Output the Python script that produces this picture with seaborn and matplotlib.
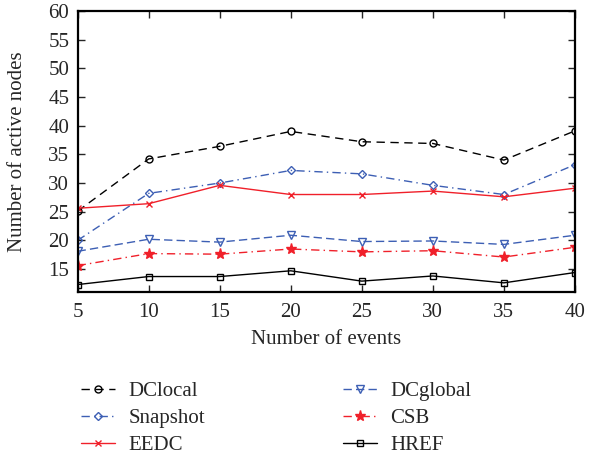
import matplotlib
matplotlib.use("Agg")
import matplotlib.pyplot as plt
import seaborn as sns
import pandas as pd

events = [5, 10, 15, 20, 25, 30, 35, 40]
dclocal = [25.1, 34.2, 36.4, 39.0, 37.2, 36.9, 34.0, 39.1]
snapshot = [20.0, 28.2, 30.0, 32.2, 31.6, 29.6, 28.0, 33.2]
eedc = [25.6, 26.4, 29.6, 28.0, 28.0, 28.6, 27.6, 29.1]
dcglobal = [18.1, 20.2, 19.7, 20.9, 19.8, 19.9, 19.3, 20.9]
csb = [15.6, 17.7, 17.6, 18.5, 18.0, 18.2, 17.1, 18.8]
href = [12.3, 13.7, 13.7, 14.7, 12.9, 13.8, 12.6, 14.4]
series_names = ["DClocal", "Snapshot", "EEDC", "DCglobal", "CSB", "HREF"]
x_ticks = [5, 10, 15, 20, 25, 30, 35, 40]
y_ticks = [15, 20, 25, 30, 35, 40, 45, 50, 55, 60]

sns.set_style("ticks")
plt.rcParams["font.family"] = ["Liberation Serif", "DejaVu Serif"]

values = [dclocal, snapshot, eedc, dcglobal, csb, href]
df = pd.DataFrame({
    "events": events * len(series_names),
    "value": [v for vals in values for v in vals],
    "series": [n for n in series_names for _ in events],
})

BLUE = "#3d5fb4"
RED = "#f0202a"
styles = {
    "DClocal": dict(color="black", ls=(0, (6, 4)), marker="o", mfc="none", ms=5),
    "Snapshot": dict(color=BLUE, ls=(0, (6, 3, 1, 3)), marker="D", mfc="none", ms=4.5),
    "EEDC": dict(color=RED, ls="-", marker="x", mfc="none", ms=4),
    "DCglobal": dict(color=BLUE, ls=(0, (6, 3)), marker="v", mfc="none", ms=6),
    "CSB": dict(color=RED, ls=(0, (6, 3, 1, 3)), marker="*", mfc=RED, ms=8),
    "HREF": dict(color="black", ls="-", marker="s", mfc="none", ms=4.5),
}

fig = plt.figure(figsize=(6.11, 4.57), dpi=100)
ax = fig.add_axes([0.127, 0.361, 0.814, 0.615])

handles = []
for name in series_names:
    st = styles[name]
    sub = df[df["series"] == name]
    sns.lineplot(data=sub, x="events", y="value", ax=ax, color=st["color"],
                 linestyle=st["ls"], marker=st["marker"], markersize=st["ms"],
                 markerfacecolor=st["mfc"], markeredgecolor=st["color"],
                 markeredgewidth=1.0, linewidth=1.0, label=name, legend=False)
    handles.append(ax.lines[-1])

ax.set_xlim(5, 40)
ax.set_ylim(11, 60)
ax.set_xticks(x_ticks)
ax.set_yticks(y_ticks)
ax.tick_params(direction="in", top=True, right=True, labelsize=15, length=5, width=1)
ax.tick_params(axis="x", pad=8)
ax.tick_params(axis="y", pad=6)
for s in ax.spines.values():
    s.set_linewidth(1.6)
    s.set_color("black")
ax.set_xlabel("Number of events", fontsize=15, labelpad=6)
ax.set_ylabel("Number of active nodes", fontsize=15, labelpad=15)

fig.legend(handles, series_names, ncol=2, loc="upper left",
           bbox_to_anchor=(0.102, 0.206), frameon=False, fontsize=15,
           handlelength=1.65, handletextpad=0.63, columnspacing=6.6,
           labelspacing=0.36)

fig.savefig("out.png", dpi=100)
